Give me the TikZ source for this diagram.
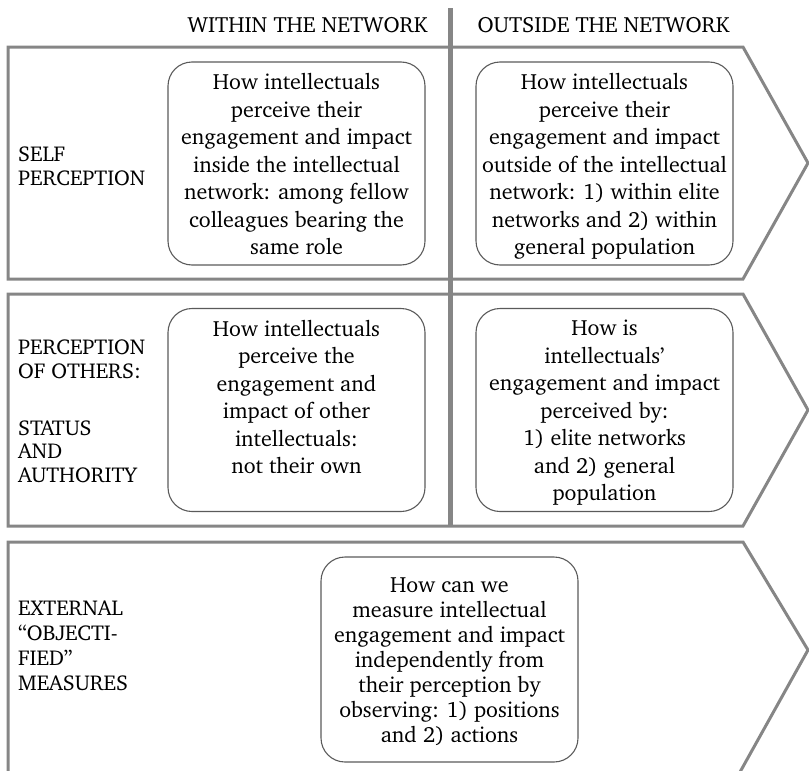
\documentclass[tikz,border=0pt]{standalone}
\usepackage[T1]{fontenc}
\usepackage{charter}
\definecolor{linegray}{RGB}{134,134,134}
\definecolor{boxgray}{RGB}{90,90,90}
\tikzset{
  rowshape/.style={draw=linegray, line width=3pt, line join=miter},
  divider/.style={draw=linegray, line width=5pt},
  rbox/.style={draw=boxgray, line width=1.1pt, rounded corners=24pt, minimum width=257pt, minimum height=203pt, inner sep=0pt},
  btext/.style={align=center, font=\fontsize{22}{27.5}\selectfont, inner sep=0pt, anchor=north},
  btextb/.style={align=center, font=\fontsize{22}{25}\selectfont, inner sep=0pt, anchor=center},
  lbl/.style={align=left, font=\fontsize{21.5}{23.5}\selectfont, inner sep=0pt, anchor=north west},
  hdr/.style={font=\fontsize{22}{26}\selectfont, inner sep=0pt}
}
\begin{document}
\begin{tikzpicture}[x=1pt,y=-1pt]
\useasboundingbox (0,0) rectangle (809,771);
\clip (0,0) rectangle (809,771);
% row outlines
\draw[rowshape] (743,47) -- (8,47) -- (8,279) -- (743,279) -- (808,163) -- cycle;
\draw[rowshape] (743,294) -- (8,294) -- (8,526) -- (743,526) -- (808,410) -- cycle;
\draw[rowshape] (8,790) -- (8,542) -- (743,542) -- (808,650) -- (730,790);
% divider
\draw[divider] (450,8) -- (450,526);
% headers
\node[hdr] (h1) at (307.5,25.5) {WITHIN THE NETWORK};
\node[hdr] (h2) at (603.5,25.5) {OUTSIDE THE NETWORK};
% row labels
\node[lbl] (l1) at (18,147) {SELF\\PERCEPTION};
\node[lbl] (l2) at (18,340) {PERCEPTION\\OF OTHERS:\\[33.5pt]STATUS\\AND\\AUTHORITY};
\node[lbl, font=\fontsize{21.5}{25}\selectfont] (l3) at (18,601) {EXTERNAL\\``OBJECTI-\\FIED''\\MEASURES};
% boxes
\node[rbox] (b1) at (296.5,163.5) {};
\node[rbox] (b2) at (604.5,163.5) {};
\node[rbox] (b3) at (296.5,410) {};
\node[rbox] (b4) at (604.5,410) {};
\node[rbox, minimum width=257pt, minimum height=205pt] (b5) at (449.5,659.5) {};
% box texts
\node[btext] (t1) at ([yshift=-12pt]b1.north) {How intellectuals\\perceive their\\engagement and impact\\inside the intellectual\\network: among fellow\\colleagues bearing the\\same role};
\node[btext] (t2) at ([yshift=-12pt]b2.north) {How intellectuals\\perceive their\\engagement and impact\\outside of the intellectual\\network: 1) within elite\\networks and 2) within\\general population};
\node[btext] (t3) at ([yshift=-12pt]b3.north) {How intellectuals\\perceive the\\engagement and\\impact of other\\intellectuals:\\not their own};
\node[btext] (t4) at ([yshift=-12pt]b4.north) {How is\\intellectuals'\\engagement and impact\\perceived by:\\1) elite networks\\and 2) general\\population};
\node[btextb] (t5) at ([yshift=-2pt]b5.center) {How can we\\measure intellectual\\engagement and impact\\independently from\\their perception by\\observing: 1) positions\\and 2) actions};
\end{tikzpicture}
\end{document}
